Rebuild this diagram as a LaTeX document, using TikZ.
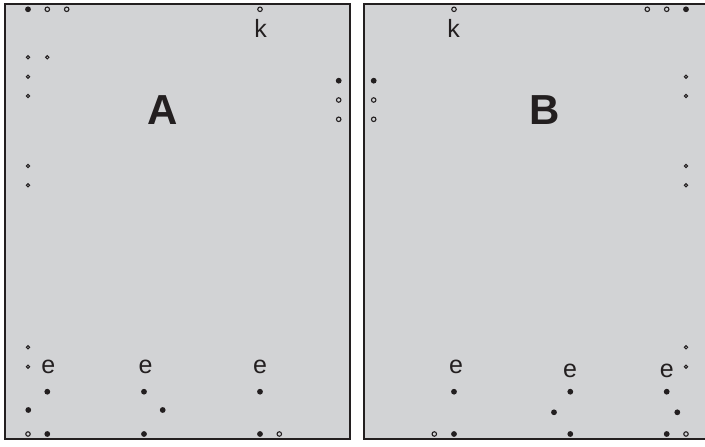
\documentclass[tikz,border=0pt]{standalone}
\usepackage{fontspec}
\setmainfont{Liberation Sans}
\definecolor{panel}{HTML}{D2D3D5}
\definecolor{ink}{HTML}{231F20}
\begin{document}
\begin{tikzpicture}[x=1pt,y=-1pt,
 fd/.style={circle,fill=ink,inner sep=0pt,minimum size=5.8pt},
 od/.style={circle,draw=ink,line width=1.1pt,inner sep=0pt,minimum size=4.5pt},
 sd/.style={circle,draw=ink,line width=1pt,inner sep=0pt,minimum size=3.3pt},
 big/.style={font=\fontsize{42}{42}\selectfont\bfseries,text=ink,inner sep=0pt,anchor=base},
 lbl/.style={font=\fontsize{25}{25}\selectfont,text=ink,inner sep=0pt,anchor=base},
 pan/.style={draw=ink,line width=2pt,fill=panel}]
\useasboundingbox (0,0) rectangle (705,447);
\clip (0,0) rectangle (705,447);
% panels
\draw[pan] (4.5,3.5) rectangle (350,439);
\draw[pan] (364,3.5) rectangle (709.5,439);
% ---- Panel A ----
\node[big] (lA) at (162.7,124) {A};
\node[lbl] (kA) at (260.5,37) {k};
\node[od] (a1) at (260,9.3) {};
\node[fd] (a2) at (28,9.3) {};
\node[od] (a3) at (47.3,9.3) {};
\node[od] (a4) at (66.7,9.3) {};
\node[sd] (a5) at (28,57.3) {};
\node[sd] (a6) at (47.3,57.3) {};
\node[sd] (a7) at (28,76.7) {};
\node[sd] (a8) at (28,96) {};
\node[fd] (a9) at (338.7,80.7) {};
\node[od] (a10) at (338.7,100) {};
\node[od] (a11) at (338.7,119.3) {};
\node[sd] (a12) at (28,166) {};
\node[sd] (a13) at (28,185.3) {};
\node[sd] (a14) at (28,347.3) {};
\node[sd] (a15) at (28,366.7) {};
\node[lbl] (eA1) at (48.3,373.3) {e};
\node[lbl] (eA2) at (145.7,373.3) {e};
\node[lbl] (eA3) at (260,373.3) {e};
\node[fd] (a16) at (47.3,391.7) {};
\node[fd] (a17) at (144,391.7) {};
\node[fd] (a18) at (260,391.7) {};
\node[fd] (a19) at (28.3,410) {};
\node[fd] (a20) at (162.7,410) {};
\node[od] (a21) at (28,434) {};
\node[fd] (a22) at (47.3,434) {};
\node[fd] (a23) at (144,434) {};
\node[fd] (a24) at (260,434) {};
\node[od] (a25) at (279.3,434) {};
% ---- Panel B ----
\node[big] (lB) at (544.3,124) {B};
\node[lbl] (kB) at (453.5,37) {k};
\node[od] (b1) at (454,9.3) {};
\node[od] (b2) at (647.3,9.3) {};
\node[od] (b3) at (666.7,9.3) {};
\node[fd] (b4) at (686,9.3) {};
\node[fd] (b5) at (373.7,80.7) {};
\node[od] (b6) at (373.7,100) {};
\node[od] (b7) at (373.7,119.3) {};
\node[sd] (b8) at (686,76.7) {};
\node[sd] (b9) at (686,96) {};
\node[sd] (b10) at (686,166) {};
\node[sd] (b11) at (686,185.3) {};
\node[sd] (b12) at (686,347.3) {};
\node[sd] (b13) at (686,366.7) {};
\node[lbl] (eB1) at (456,373.3) {e};
\node[lbl] (eB2) at (570,377.3) {e};
\node[lbl] (eB3) at (666.7,377.3) {e};
\node[fd] (b14) at (454,391.7) {};
\node[fd] (b15) at (570.3,391.7) {};
\node[fd] (b16) at (666.7,391.7) {};
\node[fd] (b17) at (554,412.3) {};
\node[fd] (b18) at (677.3,412.3) {};
\node[od] (b19) at (434.3,434) {};
\node[fd] (b20) at (454,434) {};
\node[fd] (b21) at (570.3,434) {};
\node[fd] (b22) at (666.7,434) {};
\node[od] (b23) at (686,434) {};
\end{tikzpicture}
\end{document}
